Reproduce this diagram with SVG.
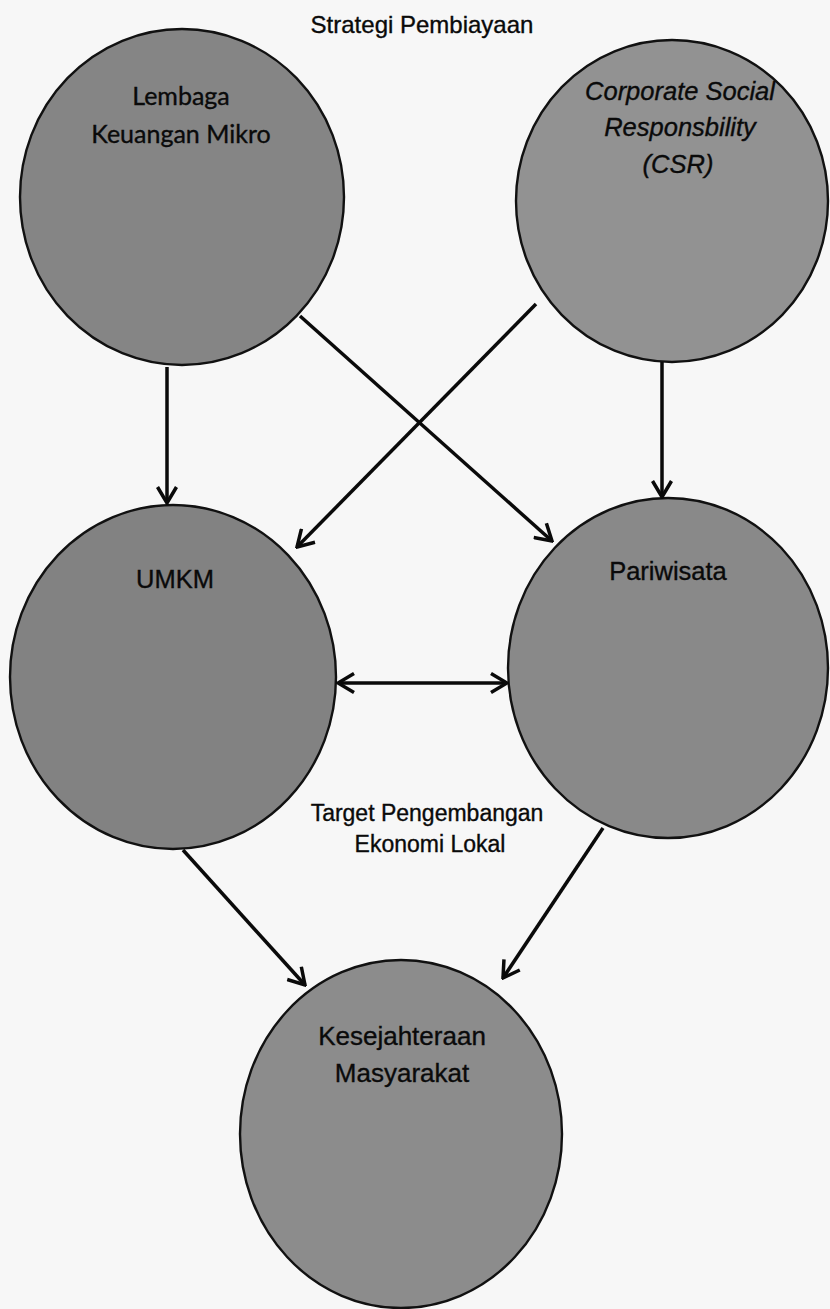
<svg xmlns="http://www.w3.org/2000/svg" width="830" height="1309" viewBox="0 0 830 1309">
<style>
.node{stroke:#111;stroke-width:2.4}
.t{font-family:"Liberation Sans",Arial,sans-serif;fill:#0a0a0a;stroke:#0a0a0a;stroke-width:0.35;text-anchor:middle}
.c{font-family:Lato,"Open Sans",sans-serif;fill:#0a0a0a;stroke:#0a0a0a;stroke-width:0.35;text-anchor:middle}
.con{stroke:#0a0a0a;stroke-width:3.5;fill:none}
</style>
<defs>
<marker id="ah" markerUnits="userSpaceOnUse" viewBox="0 0 20 22" markerWidth="20" markerHeight="22" refX="18" refY="11" orient="auto-start-reverse">
<path d="M2,1.5 L18,11 L2,20.5" fill="none" stroke="#0a0a0a" stroke-width="3.5"/>
</marker>
</defs>
<rect width="830" height="1309" fill="#f7f7f7"/>
<text class="t" x="422" y="33" font-size="24">Strategi Pembiayaan</text>
<g id="lembaga">
<ellipse class="node" cx="182" cy="197" rx="162" ry="168" fill="#858585"/>
<text class="c" x="181" y="105" font-size="25">Lembaga</text>
<text class="c" x="181" y="143" font-size="25">Keuangan Mikro</text>
</g>
<g id="csr">
<ellipse class="node" cx="672" cy="201" rx="156" ry="161" fill="#929292"/>
<text class="t" x="680" y="100" font-size="25.5" font-style="italic">Corporate Social</text>
<text class="t" x="680" y="136" font-size="25.5" font-style="italic">Responsbility</text>
<text class="t" x="678" y="173" font-size="25.5" font-style="italic">(CSR)</text>
</g>
<g id="umkm">
<ellipse class="node" cx="173" cy="677" rx="163" ry="172" fill="#828282"/>
<text class="t" x="175" y="588" font-size="25.5">UMKM</text>
</g>
<g id="pariwisata">
<ellipse class="node" cx="668" cy="668" rx="160" ry="170" fill="#898989"/>
<text class="t" x="668" y="580" font-size="25.5">Pariwisata</text>
</g>
<g id="kesejahteraan">
<ellipse class="node" cx="401" cy="1134" rx="161" ry="174" fill="#8c8c8c"/>
<text class="t" x="402" y="1045" font-size="26">Kesejahteraan</text>
<text class="t" x="402" y="1082" font-size="26">Masyarakat</text>
</g>
<text class="t" x="427" y="821" font-size="23">Target Pengembangan</text>
<text class="t" x="430" y="852" font-size="23">Ekonomi Lokal</text>
<g id="connectors">
<line class="con" x1="167" y1="367" x2="167" y2="503" marker-end="url(#ah)"/>
<line class="con" x1="662" y1="362" x2="662" y2="497" marker-end="url(#ah)"/>
<line class="con" x1="300" y1="316" x2="552" y2="541" marker-end="url(#ah)"/>
<line class="con" x1="536" y1="304" x2="297" y2="547" marker-end="url(#ah)"/>
<line class="con" x1="338" y1="683" x2="507" y2="683" marker-start="url(#ah)" marker-end="url(#ah)"/>
<line class="con" x1="183" y1="850" x2="305" y2="985" marker-end="url(#ah)"/>
<line class="con" x1="603" y1="828" x2="503" y2="978" marker-end="url(#ah)"/>
</g>
</svg>
